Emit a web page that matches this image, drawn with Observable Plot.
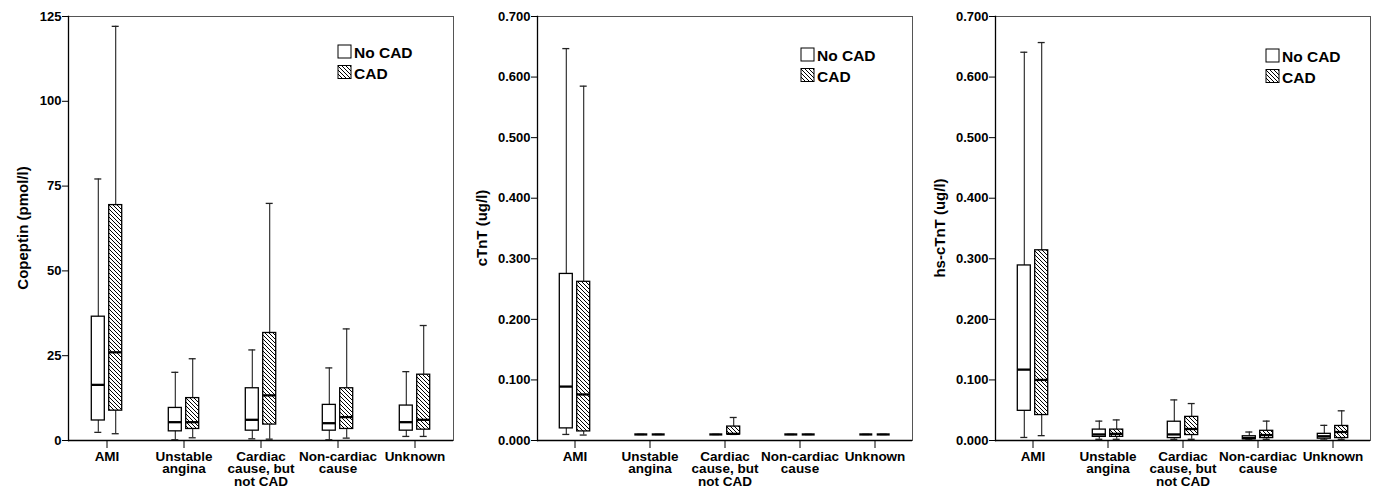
<!DOCTYPE html>
<html><head><meta charset="utf-8">
<script src="https://cdn.jsdelivr.net/npm/d3@7"></script>
<script src="https://cdn.jsdelivr.net/npm/@observablehq/plot@0.6"></script>
<style>
body{margin:0;background:#fff;}
#row{display:flex;width:1378px;height:488px;}
#row svg{display:block;overflow:visible;}
</style></head><body><div id="row"></div><script>
// ---- data ----
const categories = ["AMI", "Unstable angina", "Cardiac cause, but not CAD", "Non-cardiac cause", "Unknown"];
const categoryLabels = ["AMI", "Unstable\nangina", "Cardiac\ncause, but\nnot CAD", "Non-cardiac\ncause", "Unknown"];
const groups = ["No CAD", "CAD"];
// each row: [lower whisker, Q1, median, Q3, upper whisker]
const copeptinNoCAD = [[2.4, 5.9, 16.4, 36.5, 77.1], [0.2, 2.7, 5.4, 9.6, 20.1], [0.5, 2.9, 6.1, 15.4, 26.7], [0.2, 2.9, 5.1, 10.5, 21.4], [1.2, 2.9, 5.4, 10.3, 20.3]];
const copeptinCAD   = [[2.0, 8.8, 26.0, 69.4, 122.1], [0.8, 3.4, 5.4, 12.5, 24.1], [0.4, 4.7, 13.3, 31.7, 69.9], [0.7, 3.4, 6.9, 15.4, 32.9], [1.2, 3.2, 6.1, 19.4, 33.9]];
const cTnTNoCAD = [[0.010, 0.020, 0.089, 0.275, 0.647], [0.010, 0.010, 0.010, 0.010, 0.010], [0.010, 0.010, 0.010, 0.010, 0.010], [0.010, 0.010, 0.010, 0.010, 0.010], [0.010, 0.010, 0.010, 0.010, 0.010]];
const cTnTCAD   = [[0.009, 0.015, 0.076, 0.262, 0.585], [0.010, 0.010, 0.010, 0.010, 0.010], [0.010, 0.010, 0.011, 0.023, 0.038], [0.010, 0.010, 0.010, 0.010, 0.010], [0.010, 0.010, 0.010, 0.010, 0.010]];
const hsNoCAD = [[0.005, 0.049, 0.117, 0.289, 0.641], [0.002, 0.006, 0.010, 0.018, 0.032], [0.002, 0.004, 0.010, 0.031, 0.067], [0.001, 0.002, 0.004, 0.007, 0.014], [0.001, 0.003, 0.007, 0.011, 0.025]];
const hsCAD   = [[0.008, 0.042, 0.100, 0.314, 0.657], [0.002, 0.006, 0.011, 0.018, 0.034], [0.002, 0.009, 0.019, 0.039, 0.061], [0.002, 0.004, 0.009, 0.016, 0.032], [0.002, 0.004, 0.014, 0.024, 0.049]];
const copeptinTicks = [0, 25, 50, 75, 100, 125];
const troponinTicks = [0, 0.1, 0.2, 0.3, 0.4, 0.5, 0.6, 0.7];

const FONT = '"Liberation Sans", Arial, Helvetica, sans-serif';

function rows(noCad, cad) {
  const out = [];
  categories.forEach((c, i) => {
    [noCad, cad].forEach((s, j) => {
      const [lo, q1, med, q3, hi] = s[i];
      out.push({category: c, group: groups[j], lo, q1, med, q3, hi});
    });
  });
  return out;
}

function panel(cfg) {
  const {id, title, noCad, cad, ticks, domain, fmt, width, ml, mr, titleX, legendX, legendY} = cfg;
  const mt = 16, mb = 48, height = 488;
  const bw = (width - ml - mr) / categories.length;
  const data = rows(noCad, cad);
  const hw = 6.5, gapOff = 8.7, capHalf = 3.5;
  const marks = [];
  groups.forEach((g, j) => {
    const d = data.filter(r => r.group === g);
    const off = j === 0 ? -gapOff : gapOff;
    const boxInsetL = bw / 2 + off - hw, boxInsetR = bw / 2 - off - hw;
    marks.push(Plot.ruleX(d, {x: "category", y1: "lo", y2: "hi", dx: off, stroke: "#222", strokeWidth: 1.1}));
    marks.push(Plot.tickY(d, {x: "category", y: "lo", dx: off, insetLeft: bw / 2 - capHalf, insetRight: bw / 2 - capHalf, stroke: "#222", strokeWidth: 1.3}));
    marks.push(Plot.tickY(d, {x: "category", y: "hi", dx: off, insetLeft: bw / 2 - capHalf, insetRight: bw / 2 - capHalf, stroke: "#222", strokeWidth: 1.3}));
    marks.push(Plot.barY(d, {x: "category", y1: "q1", y2: "q3", insetLeft: boxInsetL, insetRight: boxInsetR,
      fill: j === 0 ? "white" : `url(#hatch-${id})`, stroke: "black", strokeWidth: 1.3}));
    marks.push(Plot.tickY(d, {x: "category", y: "med", insetLeft: boxInsetL, insetRight: boxInsetR, stroke: "black", strokeWidth: 2.3}));
  });
  const svg = Plot.plot({
    width, height, marginLeft: ml, marginRight: mr, marginTop: mt, marginBottom: mb,
    style: {fontFamily: FONT, fontSize: "13px", fontWeight: "bold", color: "black", background: "white", overflow: "visible"},
    x: {type: "band", domain: categories, padding: 0, axis: null},
    y: {domain, axis: null},
    marks: [
      Plot.frame({stroke: "#555", strokeWidth: 1}),
      ...marks,
      Plot.axisX({tickSize: 8, tickPadding: 3, tickFormat: d => categoryLabels[categories.indexOf(d)], label: null, fontSize: 13.5, lineHeight: 0.95}),
      Plot.axisY({ticks, tickSize: 6, tickPadding: 1, tickFormat: fmt, label: null, fontSize: 13}),
      Plot.ruleY([domain[0]], {stroke: "black", strokeWidth: 1.3}),
      Plot.frame({anchor: "left", stroke: "black", strokeWidth: 1.3})
    ]
  });
  const s = d3.select(svg);
  const defs = s.insert("defs", ":first-child");
  const pat = defs.append("pattern").attr("id", `hatch-${id}`).attr("patternUnits", "userSpaceOnUse")
    .attr("width", 4).attr("height", 4);
  pat.append("rect").attr("width", 4).attr("height", 4).attr("fill", "white");
  pat.append("path").attr("d", "M-1,-1L5,5M3,-1L5,1M-1,3L1,5").attr("stroke", "black").attr("stroke-width", 1);
  // y title
  s.append("text").attr("transform", `translate(${titleX},${(mt + height - mb) / 2}) rotate(-90)`)
    .attr("text-anchor", "middle").attr("dominant-baseline", "central")
    .style("font", `bold 15px ${FONT}`).text(title);
  // legend
  groups.forEach((g, j) => {
    const y = legendY + j * 20.5;
    s.append("rect").attr("x", legendX).attr("y", y).attr("width", 13).attr("height", 13)
      .attr("fill", j === 0 ? "white" : `url(#hatch-${id})`).attr("stroke", "black").attr("stroke-width", 1);
    s.append("text").attr("x", legendX + 16).attr("y", y + 13).attr("text-anchor", "start")
      .style("font", `bold 15.5px ${FONT}`).text(g);
  });
  return svg;
}

const row = document.getElementById("row");
row.appendChild(panel({id: "a", title: "Copeptin (pmol/l)", noCad: copeptinNoCAD, cad: copeptinCAD, ticks: copeptinTicks,
  domain: [0, 125], fmt: d3.format("d"), width: 460, ml: 68, mr: 7, titleX: 22, legendX: 338, legendY: 45}));
row.appendChild(panel({id: "b", title: "cTnT (ug/l)", noCad: cTnTNoCAD, cad: cTnTCAD, ticks: troponinTicks,
  domain: [0, 0.7], fmt: d3.format(".3f"), width: 460, ml: 77, mr: 8, titleX: 21, legendX: 341, legendY: 48}));
row.appendChild(panel({id: "c", title: "hs-cTnT (ug/l)", noCad: hsNoCAD, cad: hsCAD, ticks: troponinTicks,
  domain: [0, 0.7], fmt: d3.format(".3f"), width: 458, ml: 75, mr: 8, titleX: 19, legendX: 346, legendY: 49}));
</script></body></html>
